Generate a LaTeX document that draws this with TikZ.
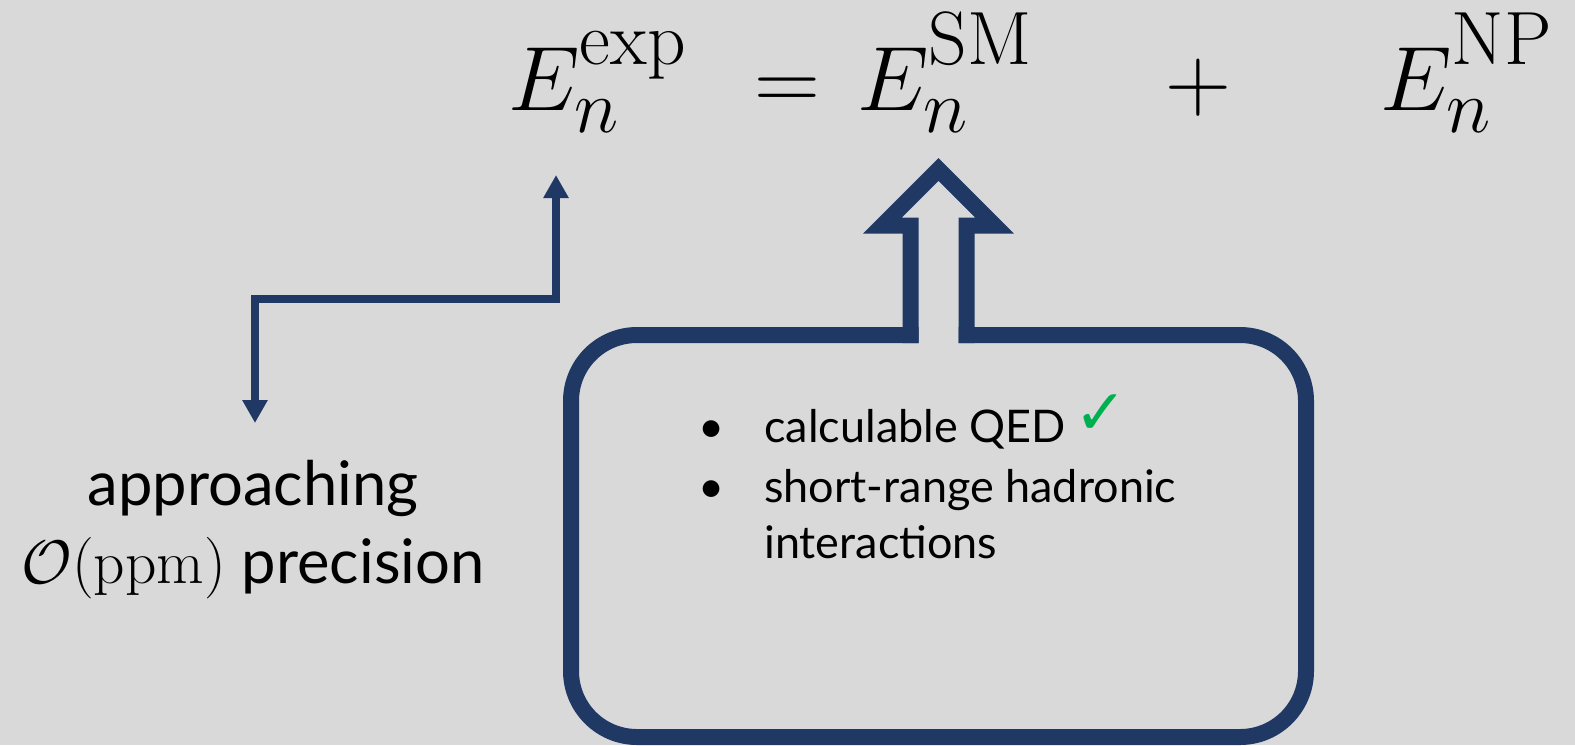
\RequirePackage{fix-cm}
\documentclass[tikz,border=0pt]{standalone}
\usepackage{amsmath}
\usepackage[no-math]{fontspec}
\setmainfont{Lato}
\newfontfamily\symfont{DejaVu Sans}
\usetikzlibrary{arrows.meta}
\DeclareMathSizes{52}{52}{43}{30}

\definecolor{navy}{HTML}{203864}
\definecolor{bggray}{HTML}{D9D9D9}
\definecolor{okgreen}{HTML}{00B050}

\newcommand{\upsup}[1]{^{\raisebox{7pt}{$\scriptstyle\mathrm{#1}$}}}

\begin{document}
\begin{tikzpicture}[x=0.02cm, y=-0.02cm,
    eqn/.style={inner sep=0pt, anchor=base west, font=\fontsize{52}{60}\selectfont},
    bigtext/.style={inner sep=0pt, anchor=base, font=\fontsize{35}{44}\selectfont},
    listtext/.style={inner sep=0pt, anchor=base west, font=\fontsize{25.6}{33}\selectfont},
    elbow/.style={navy, line width=0.15cm,
        {Triangle[width=0.48cm,length=0.46cm]}-{Triangle[width=0.48cm,length=0.46cm]}},
    outline/.style={navy, line width=0.32cm}]

    \fill[bggray] (0,0) rectangle (1575,745);
    \useasboundingbox (0,0) rectangle (1575,745);

    % equation
    \node[eqn] (Eexp) at (508,110) {$E_n\upsup{exp}$};
    \node[eqn] (eqs) at (754,110) {$=$};
    \node[eqn] (Esm) at (857,110) {$E_n\upsup{SM}$};
    \node[eqn] (plus) at (1165,110) {$+$};
    \node[eqn] (Enp) at (1380,110) {$E_n\upsup{NP}$};

    % precision label
    \node[bigtext] (appr) at (253,505) {approaching};
    \node[bigtext] (prec) at (253,583) {$\mathcal{O}(\mathrm{ppm})$ precision};

    \coordinate (expfoot) at (556,175);
    \coordinate (prechead) at (255,423);
    \coordinate (bend) at (400,299);
    \draw[elbow] (prechead) |- (bend) -| (expfoot);

    % box and hollow arrow
    \coordinate (A1) at (571,335);
    \coordinate (A2) at (571,737);
    \coordinate (A3) at (1306,737);
    \coordinate (A4) at (1306,335);
    \draw[outline, rounded corners=1.32cm] (918.5,335) -- (A1) -- (A2) -- (A3) -- (A4) -- (958.5,335);
    \draw[outline] (910.5,343) -- (910.5,225.5) -- (882.5,225.5) -- (938.5,169.5)
        -- (994.5,225.5) -- (966.5,225.5) -- (966.5,343);

    % list
    \node[listtext, anchor=base] (b1) at (712,442) {\textbullet};
    \node[listtext] (qed) at (764,442) {calculable QED};
    \node[inner sep=0pt, anchor=base west, text=okgreen, font=\symfont\fontsize{36}{36}\selectfont] (chk) at (1074,434) {✓};
    \node[listtext, anchor=base] (b2) at (712,502) {\textbullet};
    \node[listtext] (sr) at (764,502) {short-range hadronic};
    \node[listtext] (inter) at (764,558) {interactions};

\end{tikzpicture}
\end{document}
